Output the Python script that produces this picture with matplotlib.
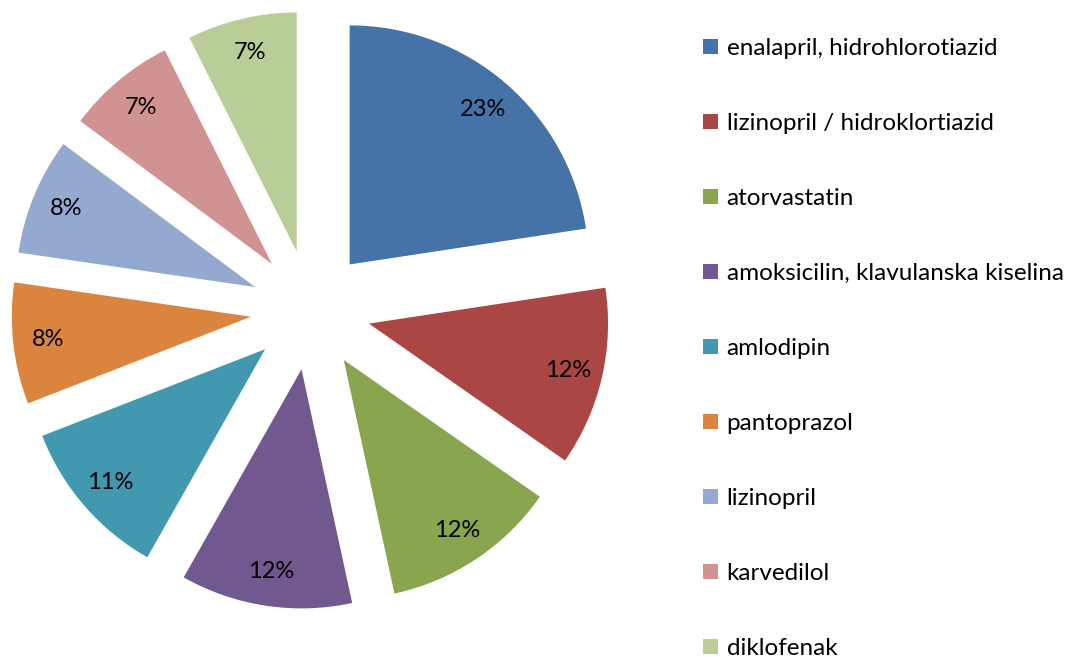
import matplotlib.pyplot as plt
from matplotlib.patches import Patch

labels = ['enalapril, hidrohlorotiazid', 'lizinopril / hidroklortiazid', 'atorvastatin',
          'amoksicilin, klavulanska kiselina', 'amlodipin', 'pantoprazol',
          'lizinopril', 'karvedilol', 'diklofenak']
# shares (labels round to 23, 12, 12, 12, 11, 8, 8, 7, 7)
values = [22.6, 12.1, 11.9, 11.6, 10.9, 8.2, 7.9, 7.4, 7.4]
colors = ['#4572A7', '#AA4643', '#89A54E', '#71588F', '#4198AF',
          '#DB843D', '#93A9CF', '#D19392', '#B9CD96']

plt.rcParams['font.family'] = ['Lato', 'DejaVu Sans']

fig = plt.figure(figsize=(10.75, 6.57), dpi=100)
ax = fig.add_axes([-0.0014, 0.0533, 0.5805, 0.9498])
ax.pie(values, colors=colors, startangle=90, counterclock=False,
       explode=[0.251] * len(values), autopct='%.0f%%', pctdistance=0.855,
       textprops={'fontsize': 17, 'color': 'black'})
ax.set_xlim(-1.305, 1.305)
ax.set_ylim(-1.305, 1.305)
ax.set_aspect('equal')
ax.axis('off')

handles = [Patch(facecolor=c, edgecolor='none') for c in colors]
fig.legend(handles, labels, loc='upper left', bbox_to_anchor=(0.634, 0.975),
           frameon=False, fontsize=17.5, labelspacing=2.22,
           handlelength=0.6, handleheight=0.6, handletextpad=0.35)

fig.savefig('out.png', dpi=100)
